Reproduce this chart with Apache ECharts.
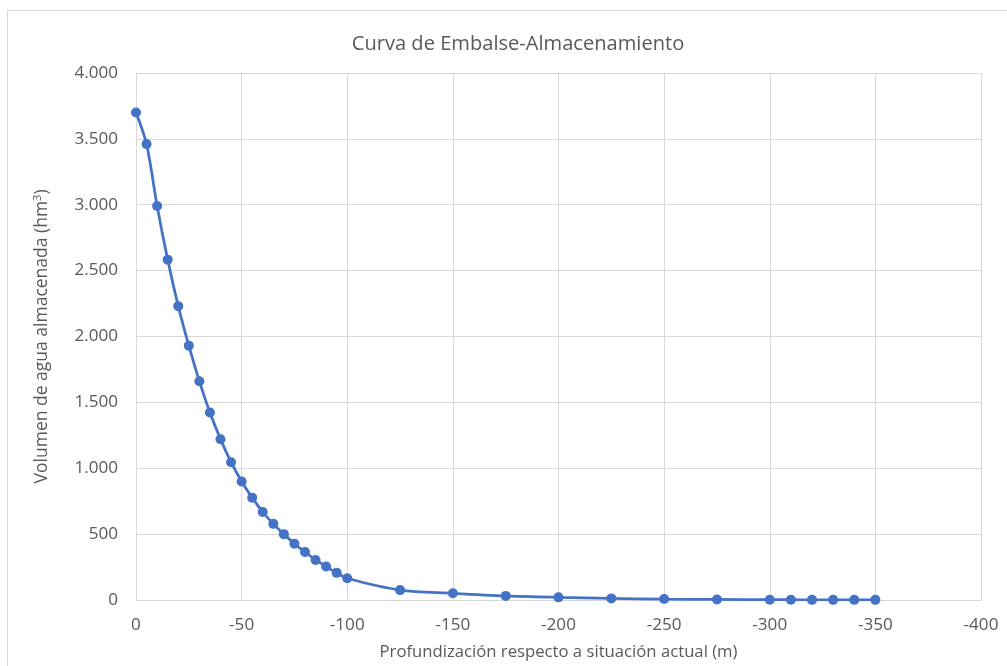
<!DOCTYPE html>
<html>
<head>
<meta charset="utf-8">
<script src="https://cdn.jsdelivr.net/npm/echarts@6/dist/echarts.min.js"></script>
<style>
html,body{margin:0;padding:0;background:#fff;}
#c{width:1007px;height:666px;}
</style>
</head>
<body>
<div id="c"></div>
<script>
const depths = [0,-5,-10,-15,-20,-25,-30,-35,-40,-45,-50,-55,-60,-65,-70,-75,-80,-85,-90,-95,-100,-125,-150,-175,-200,-225,-250,-275,-300,-310,-320,-330,-340,-350];
const volumes = [3700,3460,2990,2583,2230,1930,1660,1422,1220,1045,899,776,667,577,499,426,363,303,253,205,164,74,50,30,19,11,6,3,1,1,0,0,0,0];
const titleText = 'Curva de Embalse-Almacenamiento';
const xTitle = 'Profundización respecto a situación actual (m)';
const yTitleMain = 'Volumen de agua almacenada (hm';
const yTitleSup = '3';
const FAMILY = '"Open Sans"';
const FONT = '"Open Sans", sans-serif';
const GREY = '#595959';

// fit font size so that a text has a given pixel width
const ctx = document.createElement('canvas').getContext('2d');
function fit(text, w) {
  ctx.font = '100px ' + FAMILY;
  return Math.round(100 * w / ctx.measureText(text).width * 10) / 10;
}
const titleSize = fit(titleText, 333);
const xTitleSize = fit(xTitle, 359);
const yTitleSize = fit(yTitleMain + ')', 288);
const tickSize = fit('4.000', 43.5);

const gridTop = 73, gridBottomY = 603.5, gridLeft = 136, gridRight = 981;

const chart = echarts.init(document.getElementById('c'));
chart.setOption({
  animation: false,
  backgroundColor: '#fff',
  title: {
    text: titleText, left: 513, top: 39 - titleSize / 2, textAlign: 'center',
    textStyle: {fontFamily: FONT, fontSize: titleSize, fontWeight: 'normal', color: GREY}
  },
  grid: {left: gridLeft, right: 1007 - gridRight, top: gridTop, bottom: 666 - gridBottomY, containLabel: false},
  xAxis: {
    type: 'value', min: -400, max: 0, interval: 50, inverse: true,
    name: xTitle, nameLocation: 'middle', nameGap: 656 - gridBottomY - xTitleSize / 2,
    nameTextStyle: {fontFamily: FONT, fontSize: xTitleSize, color: GREY},
    axisLine: {show: true, lineStyle: {color: '#d9d9d9', width: 1}},
    axisTick: {show: false},
    splitLine: {show: true, lineStyle: {color: '#d9d9d9', width: 1}},
    axisLabel: {fontFamily: FONT, fontSize: tickSize, color: GREY, margin: 629 - gridBottomY - tickSize / 2}
  },
  yAxis: {
    type: 'value', min: 0, max: 4000, interval: 500,
    name: '{a|' + yTitleMain + '}{s|' + yTitleSup + '}{a|)}', nameLocation: 'middle',
    nameGap: gridLeft - 42 - yTitleSize / 2, nameRotate: 90,
    nameTextStyle: {
      rich: {
        a: {fontFamily: FONT, fontSize: yTitleSize, color: GREY},
        s: {fontFamily: FONT, fontSize: Math.round(yTitleSize * 0.6), color: GREY, verticalAlign: 'top', padding: [0, 0, 7, 0]}
      }
    },
    axisLine: {show: false},
    axisTick: {show: false},
    splitLine: {show: true, lineStyle: {color: '#d9d9d9', width: 1}},
    axisLabel: {
      fontFamily: FONT, fontSize: tickSize, color: GREY, margin: gridLeft - 118,
      formatter: v => v.toString().replace(/\B(?=(\d{3})+(?!\d))/g, '.')
    }
  },
  graphic: [{
    type: 'rect', shape: {x: 7.5, y: 10.5, width: 1100, height: 800},
    style: {fill: 'none', stroke: '#d9d9d9', lineWidth: 1}, z: -1, silent: true
  }],
  series: [{
    type: 'line',
    data: depths.map((d, i) => [d, volumes[i]]),
    smooth: 0.3,
    symbol: 'circle', symbolSize: 10,
    lineStyle: {color: '#4472c4', width: 2.75},
    itemStyle: {color: '#4472c4'}
  }]
});
</script>
</body>
</html>
